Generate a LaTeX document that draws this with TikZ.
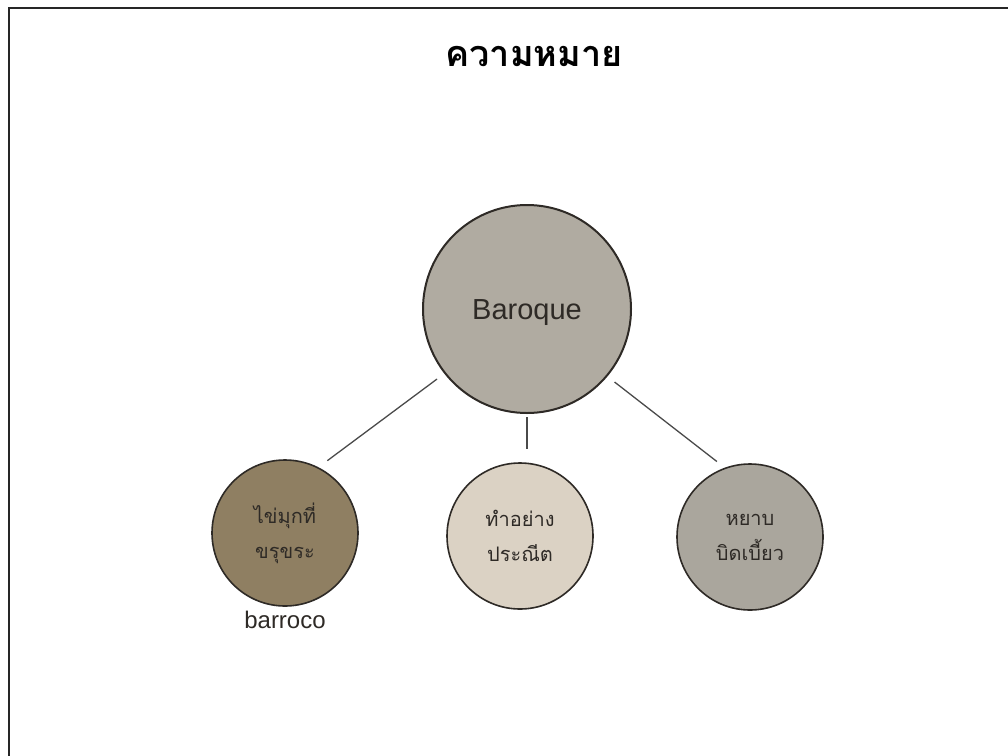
\documentclass[tikz,border=0pt]{standalone}
\usepackage{fontspec}
\setmainfont{Liberation Sans}
\newfontfamily\thaifont[Script=Thai]{Loma}
\definecolor{bigfill}{HTML}{B0ABA1}
\definecolor{pearl}{HTML}{8F7F62}
\definecolor{fine}{HTML}{DBD2C4}
\definecolor{rough}{HTML}{AAA69D}
\definecolor{ink}{HTML}{2E2A26}
\definecolor{linegray}{HTML}{4A4A4A}
\begin{document}
\begin{tikzpicture}[x=1pt,y=-1pt,
  bubble/.style={circle,draw=ink,line width=1.6pt,inner sep=0pt,align=center},
  smallbubble/.style={bubble,minimum size=146pt,font=\thaifont\fontsize{20}{35}\selectfont,text=ink},
  link/.style={draw=linegray,line width=1.3pt}]
  \useasboundingbox (0,0) rectangle (1008,755);
  % page frame (only top and left edges fall inside the page)
  \draw[line width=2pt,black!85] (9,760) -- (9,8) -- (1015,8);

  \node (title) at (534,56) {\thaifont\bfseries\fontsize{36}{42}\selectfont ความหมาย};

  \node[bubble,fill=bigfill,line width=2pt,minimum size=208pt,text=ink] (big) at (527,309) {};
  \node[font=\fontsize{29}{34}\selectfont,text=ink] (bigtext) at ([yshift=-4pt]big.center) {Baroque};

  \node[smallbubble,fill=pearl] (pearl) at (285,533) {ไข่มุกที่\\ขรุขระ};
  \node[smallbubble,fill=fine] (fine) at (520,536) {ทำอย่าง\\ประณีต};
  \node[smallbubble,fill=rough] (rough) at (750,537) {หยาบ\\บิดเบี้ยว};

  \node[font=\fontsize{24}{28}\selectfont,text=ink,anchor=north] (origin) at ([yshift=-1pt]pearl.south) {barroco};

  \draw[link,shorten <=9pt,shorten >=11pt] (big.218) -- (pearl.63);
  \draw[link,shorten <=3pt,shorten >=13pt] (big.south) -- (big.south |- fine.north);
  \draw[link,shorten <=9pt,shorten >=10pt] (big.320) -- (rough.110);
\end{tikzpicture}
\end{document}
